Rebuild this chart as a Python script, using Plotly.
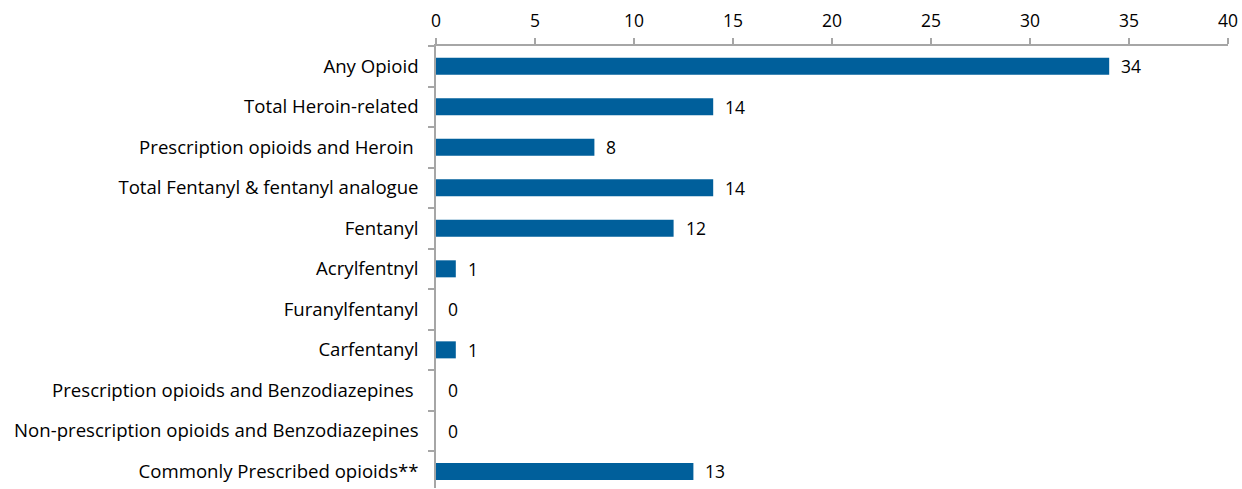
import plotly.graph_objects as go

categories = [
    "Any Opioid",
    "Total Heroin-related",
    "Prescription opioids and Heroin ",
    "Total Fentanyl & fentanyl analogue",
    "Fentanyl",
    "Acrylfentnyl",
    "Furanylfentanyl",
    "Carfentanyl",
    "Prescription opioids and Benzodiazepines ",
    "Non-prescription opioids and Benzodiazepines",
    "Commonly Prescribed opioids**",
]
values = [34, 14, 8, 14, 12, 1, 0, 1, 0, 0, 13]
x_ticks = [0, 5, 10, 15, 20, 25, 30, 35, 40]

FONT = "Gill Sans MT, Gill Sans, Open Sans, sans-serif"
FS = 17.5
FS_LABEL = 18.6

fig = go.Figure()
fig.add_trace(go.Bar(
    x=values,
    y=categories,
    orientation="h",
    width=0.42,
    marker=dict(color="#005F9B", line=dict(width=0)),
    hoverinfo="x+y",
))

for c, v in zip(categories, values):
    fig.add_annotation(
        x=v, y=c, text=str(v), showarrow=False,
        xanchor="left", yanchor="middle", xshift=10,
        font=dict(family=FONT, size=FS, color="#000000"),
    )

fig.update_layout(
    width=1242, height=489,
    margin=dict(l=436, r=14, t=46, b=1),
    plot_bgcolor="white", paper_bgcolor="white",
    showlegend=False,
    font=dict(family=FONT, size=FS, color="#000000"),
    xaxis=dict(
        side="top", range=[0, 40], tickvals=x_ticks,
        showgrid=False, zeroline=False,
        showline=True, linecolor="#A6A6A6", linewidth=1.5,
        ticks="outside", ticklen=6, tickcolor="#A6A6A6", tickwidth=1.5,
        ticklabelstandoff=4,
        tickfont=dict(family=FONT, size=FS),
    ),
    yaxis=dict(
        type="category", range=[10.41, -0.5],
        showgrid=False, zeroline=False,
        showline=True, linecolor="#A6A6A6", linewidth=1.5,
        ticks="outside", ticklen=6, tickcolor="#A6A6A6", tickwidth=1.5,
        tickson="boundaries", ticklabelstandoff=12,
        tickfont=dict(family=FONT, size=FS_LABEL),
    ),
)

fig.write_html(
    "out.html",
    config={"displayModeBar": False},
    post_script="document.body.style.margin='0';document.body.style.overflow='hidden';",
)
